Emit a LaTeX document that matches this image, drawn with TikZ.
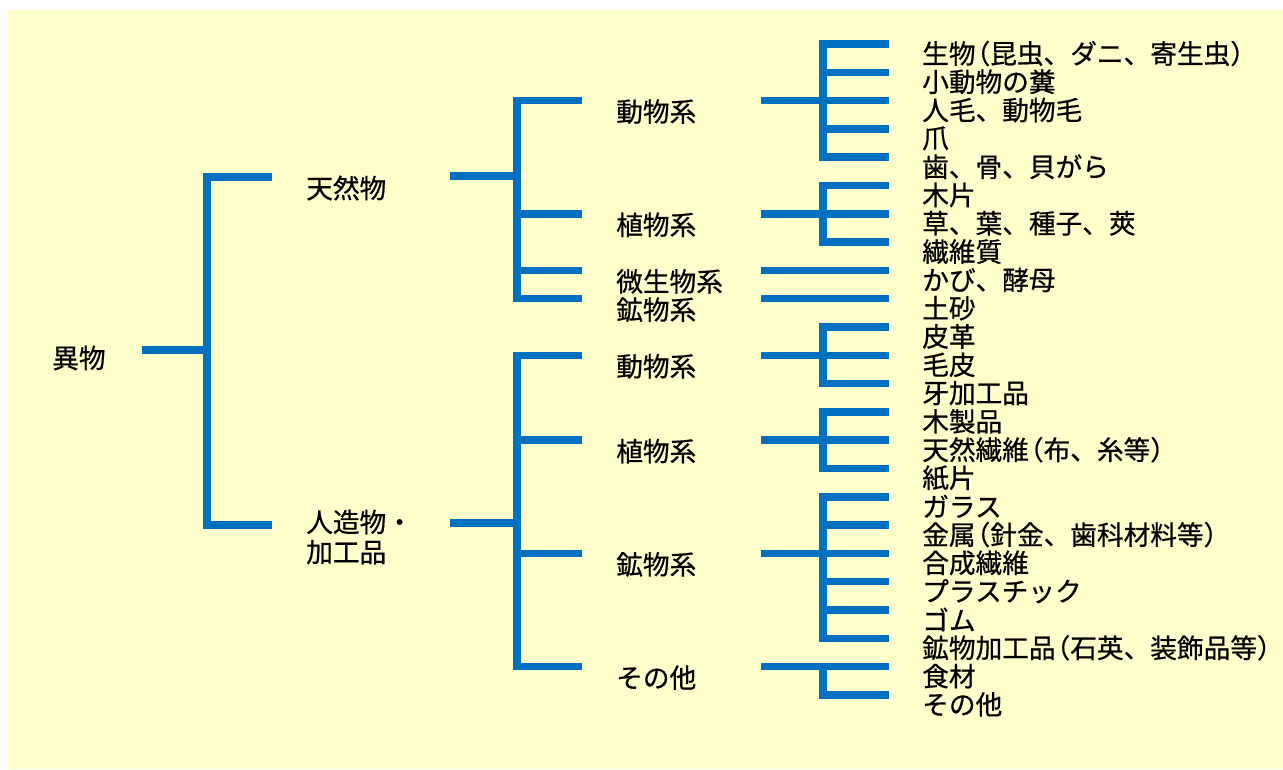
\documentclass[tikz,border=0pt]{standalone}
\usepackage{fontspec}
\setmainfont[FakeBold=0.6]{Noto Sans CJK JP}
\definecolor{bgyellow}{HTML}{FFFFCC}
\definecolor{treeblue}{HTML}{0070C0}
\newcommand\kakkoL{\kern-0.45em（}
\newcommand\kakkoR{）\kern-0.45em}
\tikzset{
  bar/.style = {line width = 5.6pt, color = treeblue},
  spine/.style = {bar, line cap = rect},
  lbl/.style = {anchor = west, inner sep = 0pt, font = \fontsize{20}{22.5}\selectfont}
}
\begin{document}
\begin{tikzpicture}[x=0.75pt, y=-0.75pt]
\useasboundingbox (0,0) rectangle (1283,769);
\fill[bgyellow] (8,10) rectangle (1283,769);
% spine positions
\coordinate (x1) at (207,0);
\coordinate (x2) at (517,0);
\coordinate (e2) at (582,0);
\coordinate (s3) at (761,0);
\coordinate (x3) at (823,0);
% leaves
\foreach \t [count = \i from 0] in {生物\kakkoL 昆虫、ダニ、寄生虫\kakkoR, 小動物の糞, 人毛、動物毛, 爪,
    歯、骨、貝がら, 木片, 草、葉、種子、莢, 繊維質, かび、酵母, 土砂, 皮革, 毛皮, 牙加工品,
    木製品, 天然繊維\kakkoL 布、糸等\kakkoR, 紙片, ガラス, 金属\kakkoL 針金、歯科材料等\kakkoR,
    合成繊維, プラスチック, ゴム, 鉱物加工品\kakkoL 石英、装飾品等\kakkoR, 食材, その他}
{
  \coordinate (l\i) at (889, 44+28.3*\i);
  \node[lbl] (t\i) at (922, 53.5+28.3*\i) {\t};
  \draw[bar] (l\i -| x3) -- (l\i);
}
\foreach \a/\b/\m in {0/4/2, 5/7/6, 8/8/8, 9/9/9, 10/12/11, 13/15/14, 16/21/18, 22/23/22}
{
  \draw[spine] (l\a -| x3) -- (l\b -| x3);
  \draw[bar] (l\m -| s3) -- (l\m -| x3);
}
% middle level
\foreach \j/\t in {2/動物系, 6/植物系, 8/微生物系, 9/鉱物系, 11/動物系, 14/植物系, 18/鉱物系, 22/その他}
{
  \node[lbl] (m\j) at (616, 55+28.3*\j) {\t};
  \draw[bar] (l\j -| x2) -- (l\j -| e2);
}
\draw[spine] (l2 -| x2) -- (l9 -| x2);
\draw[spine] (l11 -| x2) -- (l22 -| x2);
\coordinate (n1) at (450,176);
\coordinate (n2) at (450,523);
\draw[bar] (n1) -- (n1 -| x2);
\draw[bar] (n2) -- (n2 -| x2);
% top level
\node[lbl] (ibutsu) at (52,358) {異物};
\node[lbl] (tennen) at (306,188) {天然物};
\node[lbl, align = left] (jinzo) at (306,537) {人造物・\\加工品};
\coordinate (root) at (142,350);
\coordinate (k1) at (272,177);
\coordinate (k2) at (272,525);
\draw[bar] (root) -- (root -| x1);
\draw[spine] (k1 -| x1) -- (k2 -| x1);
\draw[bar] (k1 -| x1) -- (k1);
\draw[bar] (k2 -| x1) -- (k2);
\end{tikzpicture}
\end{document}
